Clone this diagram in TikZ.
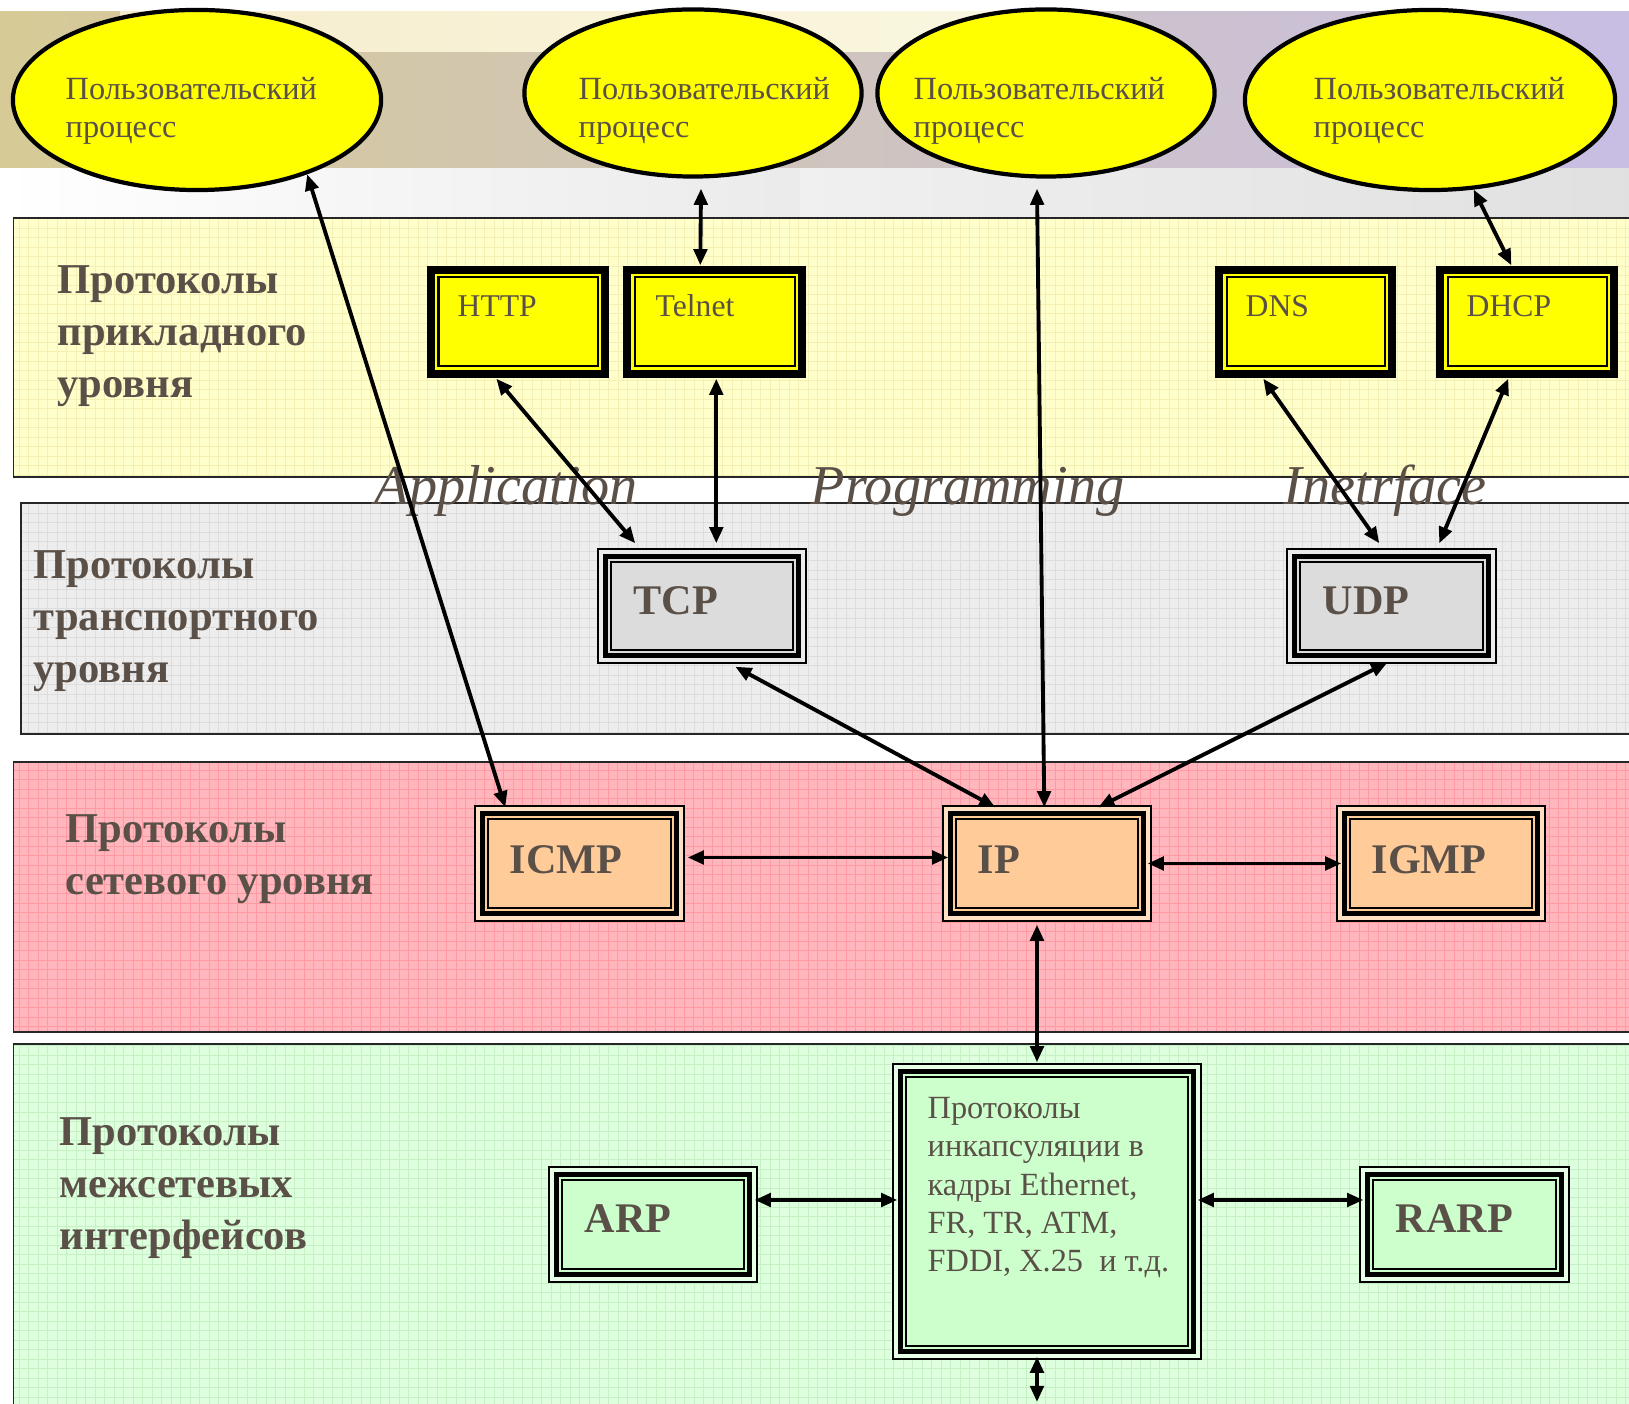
\documentclass[tikz,border=0pt]{standalone}
\usepackage{fontspec}
\setmainfont{Liberation Serif}
\usetikzlibrary{shapes.geometric,arrows.meta,fit,calc}

\definecolor{ink}{HTML}{5A5048}
\definecolor{appband}{HTML}{FFFFCC}
\definecolor{trband}{HTML}{EDEDED}
\definecolor{netband}{HTML}{FFB6BC}
\definecolor{ifband}{HTML}{DDFFDD}
\definecolor{appgrid}{HTML}{F6EFB4}
\definecolor{trgrid}{HTML}{DDDDDD}
\definecolor{netgrid}{HTML}{FF9AA3}
\definecolor{ifgrid}{HTML}{C4F0C4}
\definecolor{procfill}{HTML}{FFFF00}
\definecolor{tcpfill}{HTML}{DCDCDC}
\definecolor{ipfill}{HTML}{FFCC99}
\definecolor{iffill}{HTML}{CCFFCC}

\newcommand\inframe[2]{\draw[#2] ([shift={(#1,#1)}]path picture bounding box.north west) rectangle ([shift={(-#1,-#1)}]path picture bounding box.south east);}

\begin{document}
\begin{tikzpicture}[x=0.01cm,y=-0.01cm,
  band/.style={draw=black!85,line width=0.35pt},
  proc/.style={ellipse,draw,line width=1.2pt,fill=procfill,inner sep=0pt},
  ptxt/.style={anchor=base west,align=left,text=ink,inner sep=0pt,font=\fontsize{9.2}{10.9}\selectfont},
  lay/.style={anchor=base west,align=left,text=ink,inner sep=0pt,font=\fontsize{12.1}{14.8}\selectfont\bfseries},
  api/.style={anchor=base west,text=ink,inner sep=0pt,font=\fontsize{16}{16}\selectfont\itshape},
  appbox/.style={inner sep=0pt,fill=procfill,path picture={\inframe{4}{line width=2.28pt}\inframe{11.5}{line width=0.57pt}}},
  tribox/.style 2 args={inner sep=0pt,fill=#1,path picture={\inframe{1}{line width=0.57pt}\inframe{4}{draw=#2,line width=1.14pt}\inframe{8.5}{line width=1.5pt}\inframe{14}{line width=0.6pt}}},
  lbl/.style={anchor=base west,text=ink,inner sep=0pt,font=\fontsize{9}{10}\selectfont},
  blbl/.style={anchor=base west,text=ink,inner sep=0pt,font=\fontsize{12}{12}\selectfont\bfseries},
  arr/.style={{Triangle[length=4.6pt,width=3.8pt]}-{Triangle[length=4.6pt,width=3.8pt]},line width=1.1pt}
]
\useasboundingbox (0,0) rectangle (1629,1404);
\fill[white] (0,0) rectangle (1629,1404);

\shade[left color=white,right color=black!12] (0,168) rectangle (1629,218);
\shade[left color=white,right color=black!8] (0,168) rectangle (800,218);
\shade[left color={rgb,255:red,214;green,202;blue,150},middle color={rgb,255:red,222;green,220;blue,178},right color={rgb,255:red,200;green,190;blue,228}] (0,12) rectangle (1629,168);
\shade[left color={rgb,255:red,246;green,236;blue,204},right color={rgb,255:red,250;green,248;blue,226}] (120,12) rectangle (1080,52);

\draw[band,fill=appband] (13.5,218) rectangle (1640,477);
\draw[appgrid,line width=0.2pt,step=0.095cm] (14,218.5) grid (1629,476.5);
\draw[band] (13.5,218) rectangle (1640,477);
\draw[band,fill=trband] (21,503) rectangle (1640,734);
\draw[trgrid,line width=0.2pt,step=0.095cm] (21.5,503.5) grid (1629,733.5);
\draw[band] (21,503) rectangle (1640,734);
\draw[band,fill=netband] (13.5,762) rectangle (1640,1032);
\draw[netgrid,line width=0.25pt,step=0.095cm] (14,762.5) grid (1629,1031.5);
\draw[band] (13.5,762) rectangle (1640,1032);
\draw[band,fill=ifband] (13.5,1044) rectangle (1640,1420);
\draw[ifgrid,line width=0.2pt,step=0.095cm] (14,1044.5) grid (1629,1404);
\draw[band] (13.5,1044) rectangle (1640,1420);

\node[lay] (l1) at (57,398) {Протоколы\\прикладного\\уровня};
\node[lay] (l2) at (33,683) {Протоколы\\транспортного\\уровня};
\node[lay] (l3) at (65,895) {Протоколы\\сетевого уровня};
\node[lay] (l4) at (59,1250) {Протоколы\\межсетевых\\интерфейсов};

\node[api] (a1) at (374,505) {Application};
\node[api] (a2) at (810,505) {Programming};
\node[api] (a3) at (1283,505) {Inetrface};

\node[proc,minimum width=3.68cm,minimum height=1.8cm] (e1) at (197,100) {};
\node[proc,minimum width=3.37cm,minimum height=1.67cm] (e2) at (693,93) {};
\node[proc,minimum width=3.37cm,minimum height=1.67cm] (e3) at (1046,93) {};
\node[proc,minimum width=3.7cm,minimum height=1.8cm] (e4) at (1430,100) {};
\node[ptxt] (e1t) at (65,138) {Пользовательский\\процесс};
\node[ptxt] (e2t) at (578,138) {Пользовательский\\процесс};
\node[ptxt] (e3t) at (913,138) {Пользовательский\\процесс};
\node[ptxt] (e4t) at (1313,138) {Пользовательский\\процесс};

\node[appbox,fit={(427,266) (609,378)}] (http) {};
\node[appbox,fit={(623,266) (806,378)}] (telnet) {};
\node[appbox,fit={(1215,266) (1396,378)}] (dns) {};
\node[appbox,fit={(1436,266) (1618,378)}] (dhcp) {};
\node[lbl] at (457,317) {HTTP};
\node[lbl] at (655,317) {Telnet};
\node[lbl] at (1245,317) {DNS};
\node[lbl] at (1466,317) {DHCP};

\node[tribox={tcpfill}{white!92!black},fit={(597,548) (807,664)}] (tcp) {};
\node[tribox={tcpfill}{white!92!black},fit={(1286,548) (1497,664)}] (udp) {};
\node[blbl] at (633,615) {TCP};
\node[blbl] at (1322,615) {UDP};

\node[tribox={ipfill}{ipfill!60!white},fit={(474,805) (685,922)}] (icmp) {};
\node[tribox={ipfill}{ipfill!60!white},fit={(942,805) (1152,922)}] (ip) {};
\node[tribox={ipfill}{ipfill!60!white},fit={(1336,805) (1546,922)}] (igmp) {};
\node[blbl] at (509,874) {ICMP};
\node[blbl] at (977,874) {IP};
\node[blbl] at (1371,874) {IGMP};

\node[tribox={iffill}{iffill!50!white},fit={(892,1063) (1202,1360)}] (enc) {};
\node[tribox={iffill}{iffill!50!white},fit={(548,1166) (758,1283)}] (arp) {};
\node[tribox={iffill}{iffill!50!white},fit={(1359,1166) (1570,1283)}] (rarp) {};
\node[ptxt] (enct) at (927,1272) {Протоколы\\инкапсуляции в\\кадры Ethernet,\\FR, TR, ATM,\\FDDI, X.25~~и т.д.};
\node[blbl] at (584,1233) {ARP};
\node[blbl] at (1395,1233) {RARP};
\coordinate (down) at (1037,1402);

\draw[arr] (e1.-34) -- ($(icmp.north west)+(32,3)$);
\draw[arr] ($(e2.south)+(8,10)$) -- ($(telnet.north west)+(78,0)$);
\draw[arr] ($(e3.south)+(-9,10)$) -- ($(ip.north west)+(103,3)$);
\draw[arr] (e4.-64) -- ($(dhcp.north west)+(76,0)$);
\draw[arr] ($(http.south west)+(70,0)$) -- ($(tcp.north west)+(39,-4)$);
\draw[arr] ($(telnet.south west)+(94,0)$) -- ($(tcp.north west)+(120,-4)$);
\draw[arr] ($(dns.south west)+(49,0)$) -- ($(udp.north west)+(94,-4)$);
\draw[arr] ($(dhcp.south west)+(73,0)$) -- ($(udp.north west)+(154,-4)$);
\draw[arr] ($(tcp.south west)+(139,2)$) -- ($(ip.north west)+(54,3)$);
\draw[arr] ($(udp.south west)+(102,-2)$) -- ($(ip.north west)+(157,3)$);
\draw[arr] ($(icmp.east)+(2,-6)$) -- ($(ip.west)+(7,-6)$);
\draw[arr] ($(ip.east)+(-5,0)$) -- ($(igmp.west)+(6,0)$);
\draw[arr] ($(ip.south)+(-10,2)$) -- ($(enc.north)+(-10,0)$);
\draw[arr] ($(arp.east)+(-4,-24.5)$) -- ($(enc.west)+(6,-11.5)$);
\draw[arr] ($(enc.east)+(-5,-11.5)$) -- ($(rarp.west)+(5,-24.5)$);
\draw[arr] ($(enc.south)+(-10,-4)$) -- (down);
\end{tikzpicture}
\end{document}
